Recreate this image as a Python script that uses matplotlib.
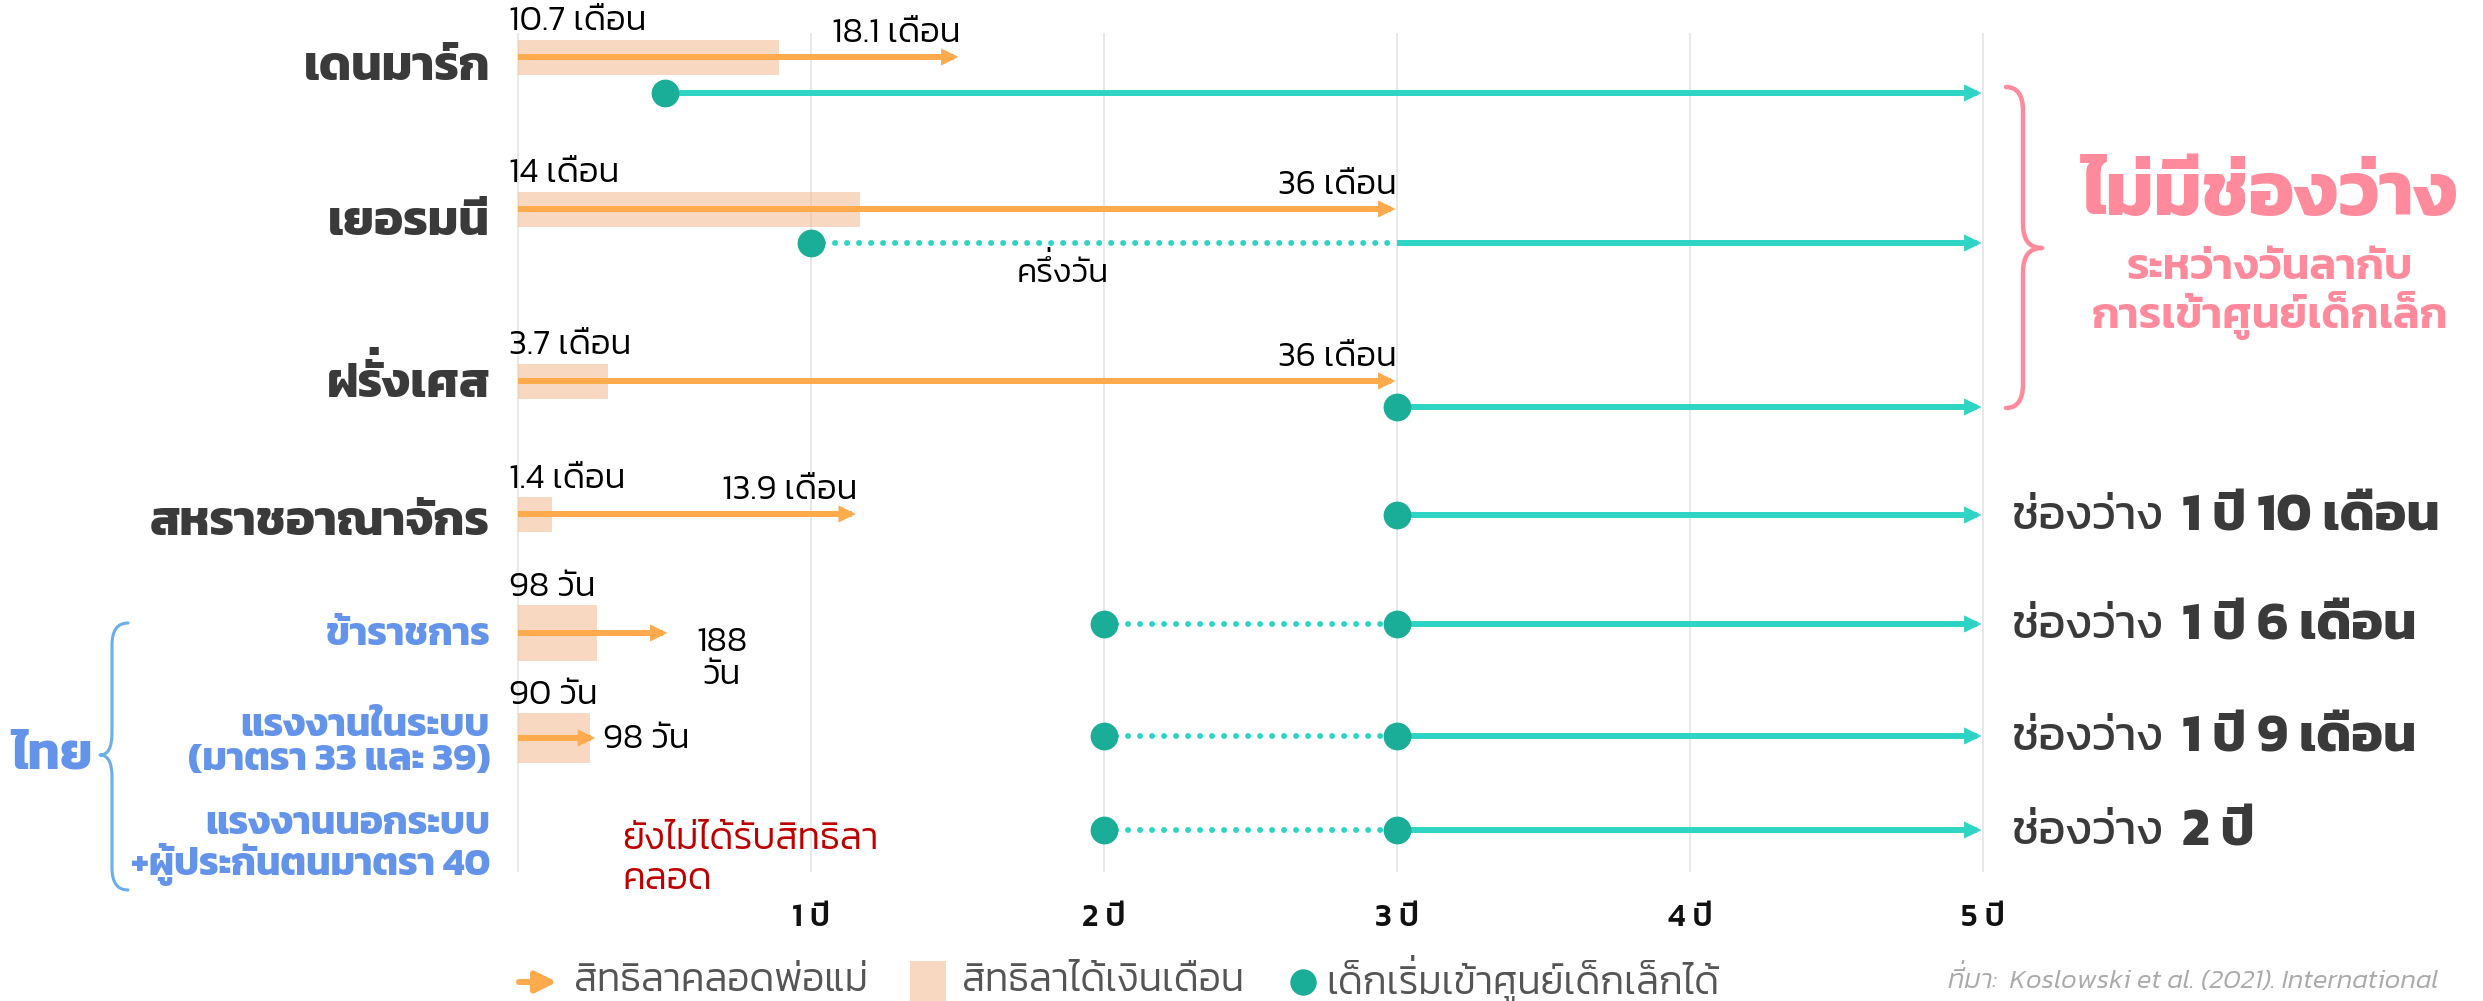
import matplotlib
matplotlib.use('Agg')
import matplotlib.pyplot as plt
from matplotlib.path import Path
from matplotlib.patches import PathPatch, Rectangle
from matplotlib.transforms import Affine2D

plt.rcParams['font.family'] = ['Kanit', 'DejaVu Sans']

# ---- data (years) ----
rows = ['เดนมาร์ก', 'เยอรมนี', 'ฝรั่งเศส', 'สหราชอาณาจักร',
        'ข้าราชการ', 'แรงงานในระบบ\n(มาตรา 33 และ 39)', 'แรงงานนอกระบบ\n+ผู้ประกันตนมาตรา 40']
paid_leave = [10.7 / 12, 14 / 12, 3.7 / 12, 1.4 / 12, 98 / 365, 90 / 365, None]
total_leave = [18.1 / 12, 36 / 12, 36 / 12, 13.9 / 12, 188 / 365, 98 / 365, None]
paid_labels = ['10.7 เดือน', '14 เดือน', '3.7 เดือน', '1.4 เดือน', '98 วัน', '90 วัน', '']
total_labels = ['18.1 เดือน', '36 เดือน', '36 เดือน', '13.9 เดือน', '188\nวัน', '98 วัน', '']
care_part = [None, 1, None, None, 2, 2, 2]      # half-day / partial childcare from
care_full = [0.5, 3, 3, 3, 3, 3, 3]             # full childcare from
care_dots = [[0.5], [1], [3], [3], [2, 3], [2, 3], [2, 3]]
care_end = 5
gap_labels = [None, None, None, ('ช่องว่าง', '1 ปี 10 เดือน'), ('ช่องว่าง', '1 ปี 6 เดือน'),
              ('ช่องว่าง', '1 ปี 9 เดือน'), ('ช่องว่าง', '2 ปี')]
years = [0, 1, 2, 3, 4, 5]

# ---- layout (pixels from top) ----
W, H = 2483, 1001
X0, YR = 518, 293
orange_y = [57, 209, 381, 514, 633, 738, None]
teal_y = [93, 243, 407, 515, 624, 736, 830]
label_y = [68, 223, 385, 523, 636, 744, 847]
bar_h = [35, 35, 35, 35, 56, 50, 0]

ORANGE = '#FFAA4C'
BAR = '#F5B88F'
TEAL = '#2ED5C5'
TEAL_DOT = '#1AAD98'
DARK = '#3a3a3a'
BLUE = '#6493EA'
PINK = '#FF8A9B'

fig = plt.figure(figsize=(W / 100, H / 100), dpi=100)
ax = fig.add_axes([0, 0, 1, 1])
ax.set_xlim(-X0 / YR, (W - X0) / YR)
ax.set_ylim(H, 0)
ax.axis('off')
pix = Affine2D().scale(1 / W, -1 / H).translate(0, 1) + fig.transFigure
renderer = fig.canvas.get_renderer()

UPPER = set('\u0e31\u0e34\u0e35\u0e36\u0e37\u0e47')
TONES = set('\u0e48\u0e49\u0e4a\u0e4b\u0e4c')


def text_width(s, **style):
    tmp = ax.text(0, 0, s, **style)
    w = tmp.get_window_extent(renderer).width
    tmp.remove()
    return w * 72 / fig.dpi


def thai_text(x, y, s, ha='left', va='center', transform=None, **style):
    # no shaping in matplotlib: lift tone marks that sit on top of an upper vowel
    base, marks = '', []
    for ch in s:
        if ch in TONES and base and base[-1] in UPPER:
            marks.append((base[:-1], ch))
        else:
            base += ch
    t = ax.text(x, y, base, ha=ha, va=va, transform=transform or ax.transData, **style)
    fs = style.get('fontsize', 20)
    for prefix, mark in marks:
        ax.annotate(' ' + mark, xy=(0, 0), xycoords=t,
                    xytext=(text_width(prefix, **style) - 0.04 * fs, 0.26 * fs),
                    textcoords='offset points', ha='right', va='bottom', **style)
    return t


def head(x, y, color):
    ax.annotate('', xy=(x, y), xytext=(x - 0.3, y),
                arrowprops=dict(arrowstyle='-|>,head_length=1.25,head_width=0.62',
                                fc=color, ec='none', shrinkA=0, shrinkB=0,
                                mutation_scale=10), zorder=4)


def arrow(x0, x1, y, color):
    ax.plot([x0, x1 - 0.02], [y, y], color=color, lw=4.3, solid_capstyle='butt', zorder=3)
    head(x1, y, color)


# grid
ax.vlines(years, 33, 872, color='#e2e2e2', lw=1.1, zorder=0)
for yr in years[1:]:
    ax.text(yr, 918, f'{yr} ปี', ha='center', va='center', fontsize=23, weight=500, color='#111111')

for i, name in enumerate(rows):
    # row labels
    if i < 4:
        thai_text(490, label_y[i], name, ha='right', transform=pix,
                  fontsize=35, weight='bold', color=DARK)
    else:
        ax.text(490, label_y[i], name, transform=pix, ha='right', va='center',
                fontsize=28, weight='bold', color=BLUE, linespacing=1.03)

    # leave
    if paid_leave[i] is not None:
        oy = orange_y[i]
        ax.barh(oy, paid_leave[i], height=bar_h[i], left=0, color=BAR, alpha=0.55, zorder=1)
        arrow(0, total_leave[i], oy, ORANGE)
        ax.text(-0.03, oy - bar_h[i] / 2 - 2, paid_labels[i], ha='left', va='bottom',
                fontsize=25, weight=300, color='black')
        if i < 4:
            ax.text(total_leave[i], oy - 8, total_labels[i], ha='right', va='bottom',
                    fontsize=25, weight=300, color='black')

    # childcare
    ty = teal_y[i]
    if care_part[i] is not None:
        ax.plot([care_part[i], care_full[i]], [ty, ty], color=TEAL, lw=4.3,
                ls=(0, (0.01, 2.0)), dash_capstyle='round', zorder=3)
    arrow(care_full[i], care_end, ty, TEAL)
    ax.plot(care_dots[i], [ty] * len(care_dots[i]), 'o', ms=20, color=TEAL_DOT, mec='none', zorder=5)

    if gap_labels[i]:
        t1 = ax.text(2011, ty + 3, gap_labels[i][0], transform=pix, ha='left', va='center',
                     fontsize=34, weight=400, color=DARK)
        ax.annotate(gap_labels[i][1], xy=(1, 0.5), xycoords=t1, xytext=(14, 0),
                    textcoords='offset points', ha='left', va='center',
                    fontsize=38, weight=700, color=DARK)

# Thai special labels
ax.text(total_leave[4] + 0.18, 659, total_labels[4], ha='center', va='center',
        fontsize=25, weight=300, color='black', linespacing=1.1)
ax.text(total_leave[5] + 0.02, 740, total_labels[5], ha='left', va='center',
        fontsize=25, weight=300, color='black')
ax.text(622, 860, 'ยังไม่ได้รับสิทธิลา\nคลอด', transform=pix, ha='left', va='center',
        fontsize=27, weight=300, color='#C00000', linespacing=1.25)
thai_text(1.86, 274, 'ครึ่งวัน', ha='center', fontsize=24, weight=300, color='black')


def brace(x_end, x_mid, x_tip, top, tip, bottom, r, color, lw):
    verts = [(x_end, top), (x_mid, top), (x_mid, top + r),
             (x_mid, tip - r), (x_mid, tip), (x_tip, tip),
             (x_mid, tip), (x_mid, tip + r),
             (x_mid, bottom - r), (x_mid, bottom), (x_end, bottom)]
    codes = [Path.MOVETO, Path.CURVE3, Path.CURVE3,
             Path.LINETO, Path.CURVE3, Path.CURVE3,
             Path.CURVE3, Path.CURVE3,
             Path.LINETO, Path.CURVE3, Path.CURVE3]
    ax.add_patch(PathPatch(Path(verts, codes), transform=pix, fc='none', ec=color, lw=lw,
                           capstyle='round', joinstyle='round'))


brace(128, 112, 100, 623, 755, 890, 22, '#6AAEEA', 2.2)
ax.text(52, 757, 'ไทย', transform=pix, ha='center', va='center', fontsize=37, weight='bold', color=BLUE)

brace(2006, 2023, 2042, 87, 248, 408, 24, PINK, 3.2)
ax.text(2270, 198, 'ไม่มีช่องว่าง', transform=pix, ha='center', va='center',
        fontsize=55, weight='bold', color=PINK)
ax.text(2270, 295, 'ระหว่างวันลากับ\nการเข้าศูนย์เด็กเล็ก', transform=pix, ha='center', va='center',
        fontsize=32, weight=600, color=PINK, linespacing=1.1)

# legend
ax.annotate('', xy=(557, 982), xytext=(519, 982), xycoords=pix, textcoords=pix,
            arrowprops=dict(arrowstyle='-|>,head_length=1.25,head_width=0.62', color=ORANGE,
                            lw=4.3, shrinkA=0, shrinkB=0, mutation_scale=10))
ax.text(574, 982, 'สิทธิลาคลอดพ่อแม่', transform=pix, ha='left', va='center',
        fontsize=28, weight=300, color='#555555')
ax.add_patch(Rectangle((910, 961), 36, 42, transform=pix, fc=BAR, alpha=0.55, ec='none'))
ax.text(962, 982, 'สิทธิลาได้เงินเดือน', transform=pix, ha='left', va='center',
        fontsize=28, weight=300, color='#555555')
ax.plot([1303], [982], 'o', ms=19, color=TEAL_DOT, mec='none', transform=pix)
thai_text(1326, 982, 'เด็กเริ่มเข้าศูนย์เด็กเล็กได้', transform=pix,
          fontsize=28, weight=300, color='#555555')
thai_text(1948, 982, 'ที่มา:  Koslowski et al. (2021). International', transform=pix,
          fontsize=19.5, weight=300, style='italic', color='#aaaaaa')

fig.savefig('out.png', dpi=100)
